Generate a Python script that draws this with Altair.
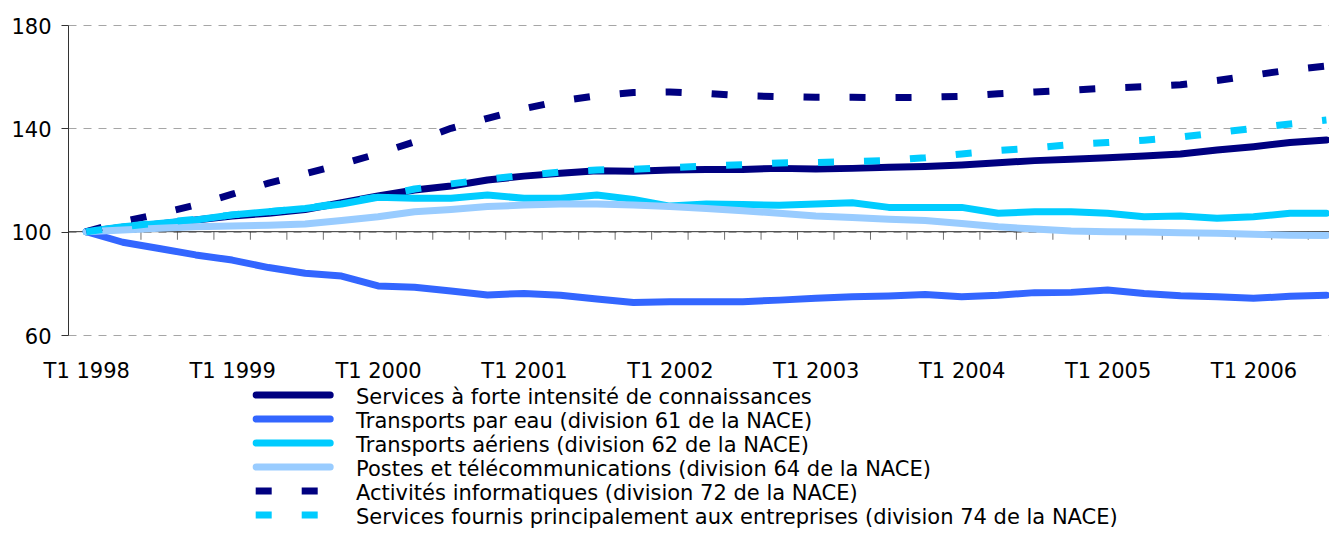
import altair as alt
import pandas as pd

quarters = [
    "T1 1998", "T2 1998", "T3 1998", "T4 1998",
    "T1 1999", "T2 1999", "T3 1999", "T4 1999",
    "T1 2000", "T2 2000", "T3 2000", "T4 2000",
    "T1 2001", "T2 2001", "T3 2001", "T4 2001",
    "T1 2002", "T2 2002", "T3 2002", "T4 2002",
    "T1 2003", "T2 2003", "T3 2003", "T4 2003",
    "T1 2004", "T2 2004", "T3 2004", "T4 2004",
    "T1 2005", "T2 2005", "T3 2005", "T4 2005",
    "T1 2006", "T2 2006", "T3 2006",
]

knowledge = [100, 101.7, 103.0, 104.5, 106.1, 107.1, 108.6, 111.2, 113.8, 116.1,
             117.7, 120.0, 121.5, 122.6, 123.6, 123.4, 123.9, 124.1, 124.1, 124.5,
             124.3, 124.5, 124.9, 125.2, 125.8, 126.7, 127.5, 128.0, 128.6, 129.3,
             130.1, 131.6, 132.9, 134.5, 135.5]
water = [100, 95.9, 93.5, 91.0, 89.0, 86.1, 83.9, 82.8, 79.0, 78.5,
         77.0, 75.5, 76.1, 75.4, 73.9, 72.6, 72.9, 72.9, 72.9, 73.5,
         74.2, 74.8, 75.1, 75.7, 74.8, 75.4, 76.4, 76.5, 77.4, 76.1,
         75.2, 74.8, 74.2, 75.0, 75.4]
air = [100, 101.9, 103.2, 104.5, 106.5, 107.7, 109.0, 110.7, 113.3, 112.9,
       112.9, 114.2, 112.9, 112.9, 114.2, 112.5, 109.9, 110.7, 110.5, 110.2,
       110.7, 111.2, 109.4, 109.4, 109.4, 107.1, 107.7, 107.7, 107.1, 105.8,
       106.1, 105.2, 105.8, 107.1, 107.1]
post = [100, 100.6, 101.3, 101.9, 102.2, 102.5, 103.0, 104.3, 105.8, 107.7,
        108.6, 109.7, 110.3, 110.7, 110.7, 110.3, 109.7, 109.0, 108.1, 107.1,
        106.1, 105.5, 104.8, 104.3, 103.2, 101.9, 101.0, 100.3, 100.0, 99.9,
        99.6, 99.4, 99.0, 98.6, 98.5]
computing = [100, 103.9, 106.9, 110.3, 114.5, 118.8, 122.4, 126.1, 130.2, 134.8,
             140.0, 143.9, 147.6, 150.6, 152.6, 153.9, 154.1, 153.5, 152.6, 152.3,
             152.0, 152.0, 151.9, 152.0, 152.4, 153.4, 154.1, 154.8, 155.6, 156.1,
             156.9, 158.5, 160.6, 162.6, 164.1]
business = [100, 101.9, 103.5, 104.8, 106.5, 107.7, 109.0, 111.2, 113.5, 116.5,
            118.5, 120.3, 121.8, 123.1, 123.9, 124.1, 124.8, 125.4, 125.9, 126.6,
            126.8, 127.1, 127.6, 128.6, 130.1, 131.4, 132.4, 133.7, 134.5, 135.4,
            136.6, 138.3, 140.0, 141.7, 143.2]

series_names = [
    "Services à forte intensité de connaissances",
    "Transports par eau (division 61 de la NACE)",
    "Transports aériens (division 62 de la NACE)",
    "Postes et télécommunications (division 64 de la NACE)",
    "Activités informatiques (division 72 de la NACE)",
    "Services fournis principalement aux entreprises (division 74 de la NACE)",
]
series_values = [knowledge, water, air, post, computing, business]
series_colors = ["#000080", "#3366FF", "#00CCFF", "#99CCFF", "#000080", "#00CCFF"]
series_dashed = [False, False, False, False, True, True]

y_ticks = [60, 100, 140, 180]
base_value = 100

FONT = "DejaVu Sans"
FS = 21

rows = []
for name, vals in zip(series_names, series_values):
    for i, v in enumerate(vals):
        rows.append({"series": name, "idx": i, "quarter": quarters[i], "value": v})
df = pd.DataFrame(rows)

bounds_df = pd.DataFrame({"idx": [k + 0.5 for k in range(len(quarters) - 1)],
                          "value": [base_value] * (len(quarters) - 1)})
base_df = pd.DataFrame({"value": [base_value]})
legend_df = pd.DataFrame({"series": series_names, "row": list(range(len(series_names)))})

label_js = "[" + ",".join("'" + q + "'" for q in quarters) + "][datum.value]"

xscale = alt.Scale(domain=[-0.5, 34.07], nice=False, zero=False)
yscale = alt.Scale(domain=[60, 180], nice=False, zero=False)

xaxis = alt.Axis(values=list(range(0, len(quarters), 4)), labelExpr=label_js,
                 domain=False, ticks=False, tickSize=0, grid=False, title=None,
                 labelFont=FONT, labelFontSize=FS, labelColor="#000000",
                 labelPadding=25, labelAngle=0, labelOverlap=False)
yaxis = alt.Axis(values=y_ticks, domain=True, domainColor="#333333", title=None,
                 ticks=True, tickSize=7, tickColor="#333333",
                 grid=True, gridColor="#a6a6a6", gridDash=[8, 7], gridWidth=1,
                 labelFont=FONT, labelFontSize=FS, labelColor="#000000",
                 labelPadding=10, labelOffset=2)


def X():
    return alt.X("idx:Q", scale=xscale, axis=xaxis, title=None)


def Y():
    return alt.Y("value:Q", scale=yscale, axis=yaxis, title=None)


zero_rule = alt.Chart(base_df).mark_rule(color="#333333", strokeWidth=1).encode(y=Y())

tick_marks = alt.Chart(bounds_df).mark_tick(
    orient="vertical", size=8, thickness=1, yOffset=4, color="#333333"
).encode(x=X(), y=Y())

layers = [zero_rule, tick_marks]

base = alt.Chart(df)
for name, color, dashed in zip(series_names, series_colors, series_dashed):
    if dashed:
        mk = base.mark_line(color=color, strokeWidth=7, strokeDash=[16, 30],
                            strokeCap="butt", strokeJoin="round")
    else:
        mk = base.mark_line(color=color, strokeWidth=7, strokeCap="round",
                            strokeJoin="round")
    layers.append(mk.encode(x=X(), y=Y()).transform_filter(alt.datum.series == name))

# legend (below the plot)
LEG_Y0 = 370
LEG_DY = 24
for r, (name, color, dashed) in enumerate(zip(series_names, series_colors, series_dashed)):
    yy = LEG_Y0 + LEG_DY * r
    if dashed:
        sym = alt.Chart(legend_df).mark_rule(color=color, strokeWidth=7, strokeDash=[16, 30],
                                             strokeCap="butt").encode(
            x=alt.value(187.7), x2=alt.value(249.7), y=alt.value(yy))
    else:
        sym = alt.Chart(legend_df).mark_rule(color=color, strokeWidth=7,
                                             strokeCap="round").encode(
            x=alt.value(188.2), x2=alt.value(262.2), y=alt.value(yy))
    txt = alt.Chart(legend_df).mark_text(
        align="left", baseline="alphabetic", font=FONT, fontSize=FS, color="#000000"
    ).encode(x=alt.value(288), y=alt.value(yy + 9), text="series:N")
    layers.append(sym.transform_filter(alt.datum.series == name))
    layers.append(txt.transform_filter(alt.datum.series == name))

chart = alt.layer(*layers).properties(
    width=1261,
    height=310,
    autosize=alt.AutoSizeParams(type="none"),
    padding={"left": 60, "top": 17, "right": 0, "bottom": 194},
    background="white",
).configure_view(stroke=None)

chart.save("out.html", embed_options={"renderer": "svg", "actions": False})
